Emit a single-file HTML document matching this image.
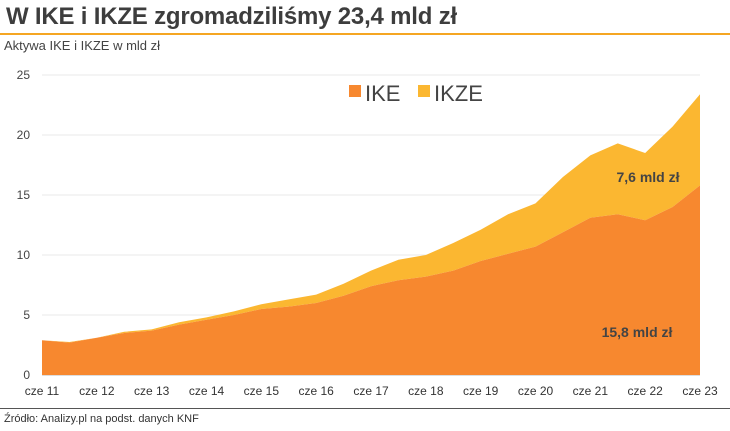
<!DOCTYPE html>
<html><head><meta charset="utf-8">
<style>
body{margin:0;width:730px;height:431px;background:#fff;font-family:"Liberation Sans",sans-serif;overflow:hidden;position:relative}
#title{position:absolute;left:6px;top:3px;font-size:24px;font-weight:bold;color:#3d3d3d;letter-spacing:-0.2px}
#rule{position:absolute;left:0;top:33px;width:730px;height:2px;background:#f5a623}
#sub{position:absolute;left:4px;top:38px;font-size:13px;color:#444}
#src{position:absolute;left:4px;top:413px;font-size:11px;color:#333}
#brule{position:absolute;left:0;top:408px;width:730px;height:1px;background:#555}
svg{position:absolute;left:0;top:0}
</style></head><body>
<div id="title">W IKE i IKZE zgromadziliśmy 23,4 mld zł</div>
<div id="rule"></div>
<div id="sub">Aktywa IKE i IKZE w mld zł</div>
<svg id="chart" width="730" height="431"></svg>
<div id="brule"></div>
<div id="src">Źródło: Analizy.pl na podst. danych KNF</div>
<script>
const yearLabels=["cze 11","cze 12","cze 13","cze 14","cze 15","cze 16","cze 17","cze 18","cze 19","cze 20","cze 21","cze 22","cze 23"];
const ikeValues=[2.9,2.7,3.1,3.5,3.7,4.2,4.6,5.0,5.5,5.7,6.0,6.6,7.4,7.9,8.2,8.7,9.5,10.1,10.7,11.9,13.1,13.4,12.9,14.0,15.8];
const ikzeValues=[0,0.05,0,0.1,0.1,0.2,0.2,0.3,0.4,0.6,0.7,1.0,1.3,1.7,1.8,2.3,2.6,3.3,3.6,4.6,5.2,5.9,5.6,6.7,7.6];
const yTicks=[0,5,10,15,20,25];
const NS="http://www.w3.org/2000/svg";
const svgEl=document.getElementById('chart');
const x0=42,x1=700,yb=375,yt=75;
const xs=i=>x0+(x1-x0)*i/(ikeValues.length-1);
const ys=v=>yb-(yb-yt)*v/25;
function mk(t,a){const e=document.createElementNS(NS,t);for(const k in a)e.setAttribute(k,a[k]);svgEl.appendChild(e);return e;}
yTicks.forEach(v=>{
  const l=mk('line',{x1:x0,x2:x1,y1:ys(v),y2:ys(v),stroke:v===0?'#bbb':'#e8e8e8','stroke-width':1});
  
  
  const t=mk('text',{x:30,y:ys(v)+4,'text-anchor':'end','font-size':12,fill:'#444','font-family':'Liberation Sans'});
  t.textContent=v;
  
  
});
const totals=ikeValues.map((v,i)=>v+ikzeValues[i]);
const topPts=totals.map((v,i)=>xs(i)+','+ys(v)).join(' ');
const midPts=ikeValues.map((v,i)=>xs(i)+','+ys(v));
const zk=mk('polygon',{points:topPts+' '+midPts.slice().reverse().join(' '),fill:'#fbb731'});


const ik=mk('polygon',{points:midPts.join(' ')+' '+xs(ikeValues.length-1)+','+yb+' '+x0+','+yb,fill:'#f7882f'});


yearLabels.forEach((s,j)=>{
  const t=mk('text',{x:xs(j*2),y:395,'text-anchor':'middle','font-size':12,fill:'#333','font-family':'Liberation Sans'});
  t.textContent=s;
  
  
});
const n=ikeValues.length-1;
const a=mk('text',{x:648,y:182,'text-anchor':'middle','font-size':14,'font-weight':'bold',fill:'#444','font-family':'Liberation Sans'});
a.textContent=ikzeValues[n].toFixed(1).replace('.',',')+' mld zł';


const b=mk('text',{x:637,y:337,'text-anchor':'middle','font-size':14,'font-weight':'bold',fill:'#444','font-family':'Liberation Sans'});
b.textContent=ikeValues[n].toFixed(1).replace('.',',')+' mld zł';


[['IKE','#f7882f',349],['IKZE','#fbb731',418]].forEach(([s,c,x])=>{
  const r=mk('rect',{x:x,y:85,width:12,height:12,fill:c});
  
  
  const t=mk('text',{x:x+16,y:101,'font-size':22,fill:'#444','font-family':'Liberation Sans'});
  t.textContent=s;
  
  
});
</script>
</body></html>
